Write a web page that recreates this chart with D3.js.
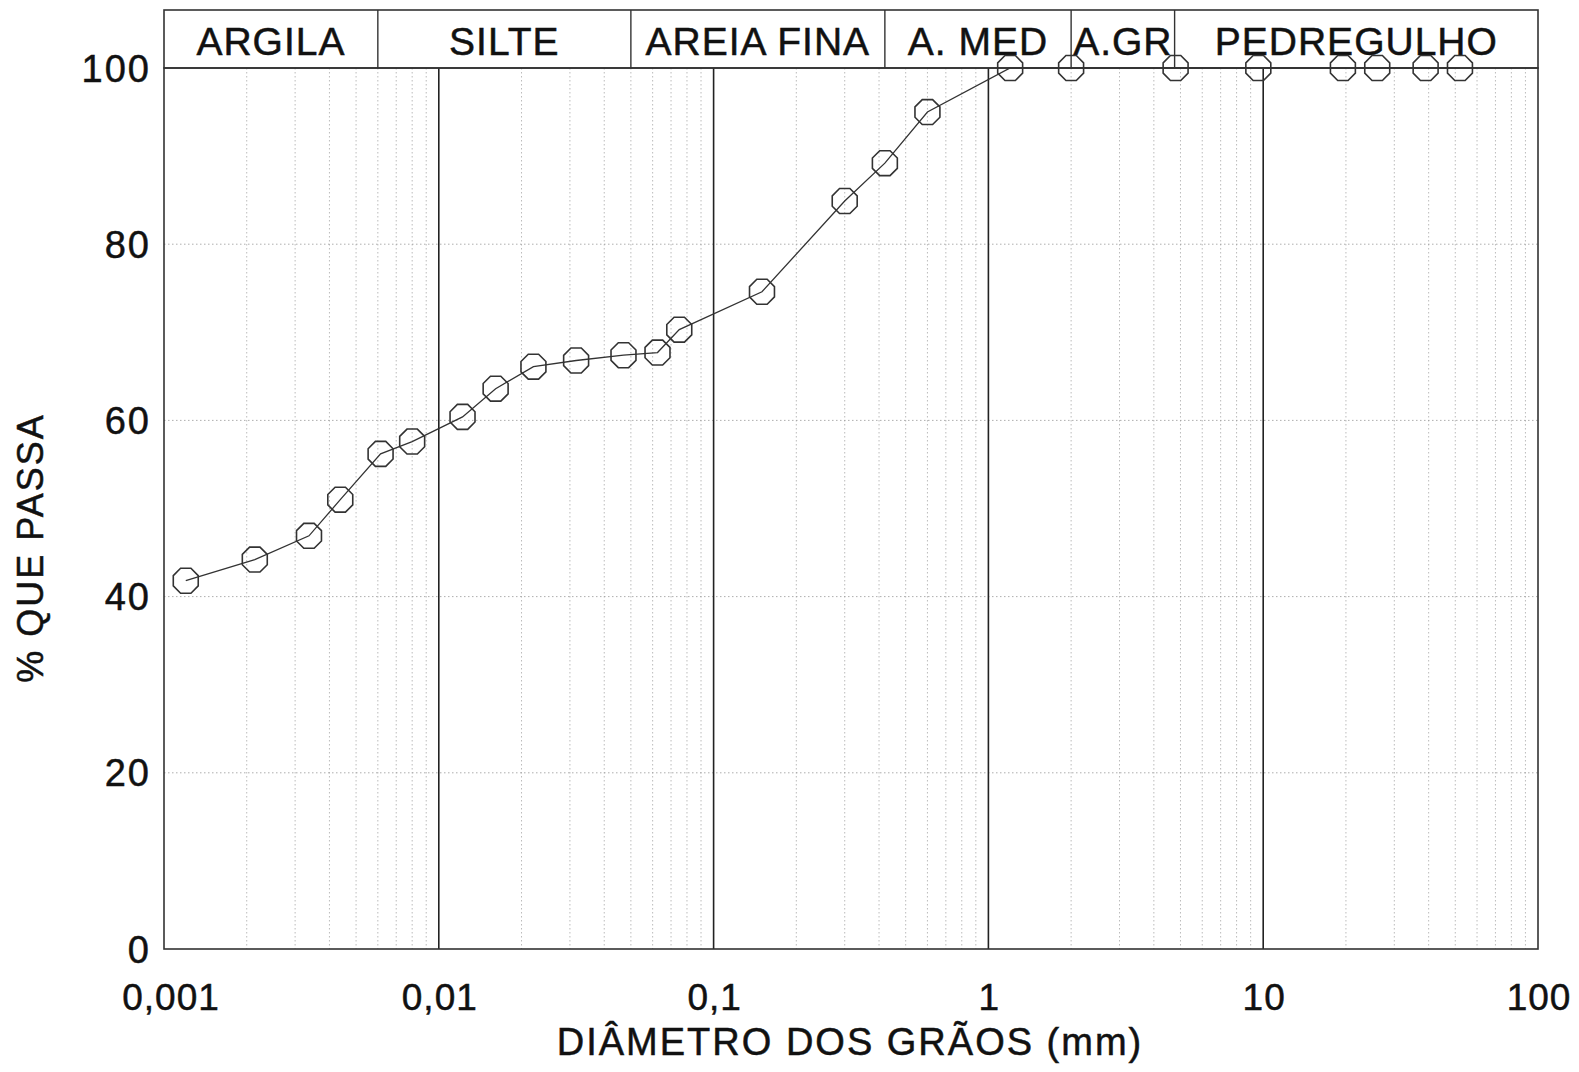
<!DOCTYPE html>
<html>
<head>
<meta charset="utf-8">
<script src="https://cdn.jsdelivr.net/npm/d3@7"></script>
<style>
  body { margin: 0; background: #fff; }
  text { font-family: "Liberation Sans", Arial, sans-serif; fill: #111; stroke: #111; stroke-width: 0.5; }
</style>
</head>
<body>
<script>
// grain size (mm) and percent passing
const diameters = [0.0012, 0.00214, 0.00337, 0.00438, 0.00614, 0.008, 0.0122, 0.0161, 0.0221,
  0.0316, 0.047, 0.0625, 0.075, 0.15, 0.3, 0.42, 0.6, 1.2, 2.0, 4.8, 9.6, 19.5, 26, 39, 52]
const passing = [41.8, 44.2, 46.9, 51.0, 56.2, 57.6, 60.4, 63.6, 66.1,
  66.8, 67.4, 67.7, 70.3, 74.6, 84.9, 89.2, 95.0, 100, 100, 100, 100, 100, 100, 100, 100]

const zoneNames = ["ARGILA", "SILTE", "AREIA FINA", "A. MED", "A.GR", "PEDREGULHO"]
const zoneLimits = [0.001, 0.006, 0.05, 0.42, 2.0, 4.76, 100]

const xTicks = [0.001, 0.01, 0.1, 1, 10, 100]
const xTickLabels = ["0,001", "0,01", "0,1", "1", "10", "100"]
const yTicks = [0, 20, 40, 60, 80, 100]

const W = 1579, H = 1072
const plotL = 164, plotR = 1538, plotT = 68, plotB = 949, headerT = 10

const svg = d3.select("body").append("svg")
  .attr("width", W)
  .attr("height", H)

const x = d3.scaleLog().domain([0.001, 100]).range([plotL, plotR])
const y = d3.scaleLinear().domain([0, 100]).range([plotB, plotT])

// minor vertical grid
const minor = []
for (let e = -3; e < 2; ++e) {
  for (let k = 2; k <= 9; ++k) minor.push(k * Math.pow(10, e))
}
svg.append("g").selectAll("line").data(minor).join("line")
  .attr("x1", d => x(d)).attr("x2", d => x(d))
  .attr("y1", plotT).attr("y2", plotB)
  .attr("stroke", "#aaa")
  .attr("stroke-width", 0.8)
  .attr("stroke-dasharray", "1.5,2.5")

// horizontal grid
svg.append("g").selectAll("line").data(yTicks.slice(1, -1)).join("line")
  .attr("x1", plotL).attr("x2", plotR)
  .attr("y1", d => y(d)).attr("y2", d => y(d))
  .attr("stroke", "#999")
  .attr("stroke-width", 0.8)
  .attr("stroke-dasharray", "1.5,2.5")

// decade lines
svg.append("g").selectAll("line").data(xTicks.slice(1, -1)).join("line")
  .attr("x1", d => x(d)).attr("x2", d => x(d))
  .attr("y1", plotT).attr("y2", plotB)
  .attr("stroke", "#222")
  .attr("stroke-width", 1.6)

// frame
svg.append("rect")
  .attr("x", plotL).attr("y", plotT)
  .attr("width", plotR - plotL).attr("height", plotB - plotT)
  .attr("fill", "none")
  .attr("stroke", "#333")
  .attr("stroke-width", 1.6)

// header with soil classes
const header = svg.append("g")
header.append("rect")
  .attr("x", plotL).attr("y", headerT)
  .attr("width", plotR - plotL).attr("height", plotT - headerT)
  .attr("fill", "none")
  .attr("stroke", "#333")
  .attr("stroke-width", 1.6)
header.selectAll("line").data(zoneLimits.slice(1, -1)).join("line")
  .attr("x1", d => x(d)).attr("x2", d => x(d))
  .attr("y1", headerT).attr("y2", plotT)
  .attr("stroke", "#333")
  .attr("stroke-width", 1.4)
header.selectAll("text").data(zoneNames).join("text")
  .attr("x", (d, i) => (x(zoneLimits[i]) + x(zoneLimits[i + 1])) / 2)
  .attr("y", 55)
  .attr("text-anchor", "middle")
  .attr("font-size", 39)
  .attr("letter-spacing", 1)
  .text(d => d)

// tick labels
svg.append("g").selectAll("text").data(yTicks).join("text")
  .attr("x", 151)
  .attr("y", d => y(d) + 13.5)
  .attr("text-anchor", "end")
  .attr("font-size", 38)
  .attr("letter-spacing", 2)
  .text(d => d)

svg.append("g").selectAll("text").data(xTicks).join("text")
  .attr("x", (d, i) => x(d) + (i === 0 ? 7 : 1))
  .attr("y", 1010)
  .attr("text-anchor", "middle")
  .attr("font-size", 37)
  .attr("letter-spacing", 1)
  .text((d, i) => xTickLabels[i])

// axis titles
svg.append("text")
  .attr("x", (plotL + plotR) / 2 - 1)
  .attr("y", 1055)
  .attr("text-anchor", "middle")
  .attr("font-size", 38)
  .attr("letter-spacing", 2)
  .text("DIÂMETRO DOS GRÃOS (mm)")

svg.append("text")
  .attr("transform", "translate(43,548) rotate(-90)")
  .attr("text-anchor", "middle")
  .attr("font-size", 36)
  .attr("letter-spacing", 2)
  .text("% QUE PASSA")

// curve
const pts = diameters.map((d, i) => [x(d), y(passing[i])])
svg.append("path")
  .attr("d", d3.line()(pts))
  .attr("fill", "none")
  .attr("stroke", "#333")
  .attr("stroke-width", 1.3)

// octagon markers
const r = 13.5
const octagon = d3.range(8).map(k => {
  const a = Math.PI / 8 + k * Math.PI / 4
  return [r * Math.cos(a), r * Math.sin(a)]
})
svg.append("g").selectAll("path").data(pts).join("path")
  .attr("transform", d => "translate(" + d[0] + "," + d[1] + ")")
  .attr("d", d3.line().curve(d3.curveLinearClosed)(octagon))
  .attr("fill", "none")
  .attr("stroke", "#333")
  .attr("stroke-width", 1.6)
</script>
</body>
</html>
